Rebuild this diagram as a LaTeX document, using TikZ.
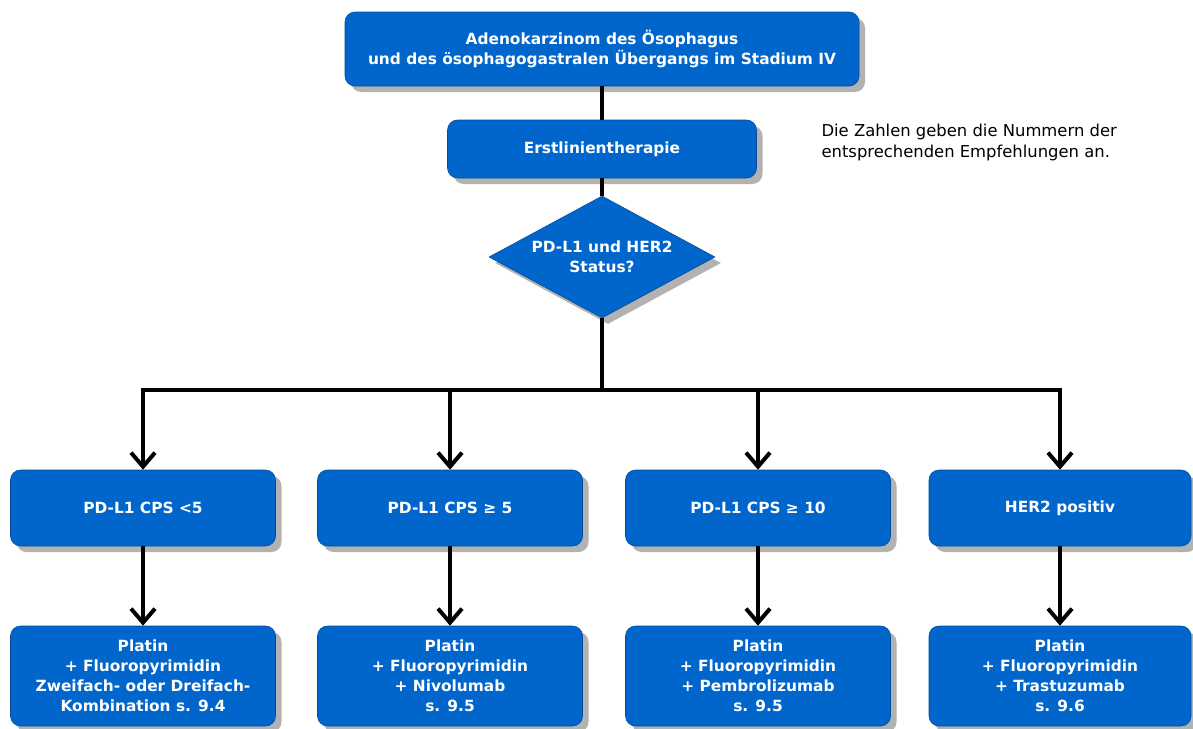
\documentclass[tikz,border=0pt]{standalone}
\usepackage{fontspec}
\setmainfont{DejaVu Sans}
\usetikzlibrary{shapes.geometric,shadows,arrows.meta}
\definecolor{boxblue}{HTML}{0066CC}
\begin{document}
\begin{tikzpicture}[x=1pt,y=-1pt,>={Straight Barb[length=14pt,width=24pt]}, line join=round,
    box/.style={fill=boxblue, draw=boxblue!75!black, line width=0.6pt, rounded corners=10pt,
      text=white, font=\fontsize{15.4}{20}\selectfont\bfseries, align=center, inner sep=0pt,
      drop shadow={shadow xshift=6pt, shadow yshift=-6pt, fill=black!30, opacity=1}},
    link/.style={line width=4pt}]
    \useasboundingbox (0,0) rectangle (1193,728);
    \def\xa{143} \def\xb{450} \def\xc{758} \def\xd{1060} % Spalten
    \def\ya{508} \def\yb{676} % Zeilen
    \node[box, minimum width=514pt, minimum height=74pt] (top) at (602,49)
      {Adenokarzinom des Ösophagus\\und des ösophagogastralen Übergangs im Stadium IV};
    \node[box, minimum width=309pt, minimum height=58pt] (erst) at (602,149) {Erstlinientherapie};
    \node[box, diamond, sharp corners, aspect=1.85, minimum width=226pt, minimum height=122pt] (status) at (602,257)
      {PD-L1 und HER2\\Status?};
    \node[anchor=north west, align=left, font=\fontsize{16.4}{21}\selectfont] (note) at (818,121)
      {Die Zahlen geben die Nummern der\\entsprechenden Empfehlungen an.};
    \coordinate (split) at (602,390);
    % erste Reihe
    \node[box, minimum width=265pt, minimum height=76pt] (cps0) at (\xa,\ya) {PD-L1 CPS <5};
    \node[box, minimum width=265pt, minimum height=76pt] (cps5) at (\xb,\ya) {PD-L1 CPS ≥ 5};
    \node[box, minimum width=265pt, minimum height=76pt] (cps10) at (\xc,\ya) {PD-L1 CPS ≥ 10};
    \node[box, minimum width=262pt, minimum height=76pt] (her2) at (\xd,\ya) {HER2 positiv};
    % zweite Reihe
    \node[box, minimum width=265pt, minimum height=100pt] (plat0) at (\xa,\yb)
      {Platin\\+ Fluoropyrimidin\\Zweifach- oder Dreifach-\\Kombination s. 9.4};
    \node[box, minimum width=265pt, minimum height=100pt] (plat5) at (\xb,\yb)
      {Platin\\+ Fluoropyrimidin\\+ Nivolumab\\s. 9.5};
    \node[box, minimum width=265pt, minimum height=100pt] (plat10) at (\xc,\yb)
      {Platin\\+ Fluoropyrimidin\\+ Pembrolizumab\\s. 9.5};
    \node[box, minimum width=262pt, minimum height=100pt] (plather) at (\xd,\yb)
      {Platin\\+ Fluoropyrimidin\\+ Trastuzumab\\s. 9.6};
    \draw[link] (top.south) -- (erst.north);
    \draw[link] (erst.south) -- (status.north);
    \draw[link] (status.south) -- (split);
    \draw[link, line cap=rect] (cps0 |- split) -- (her2 |- split);
    \foreach \n/\m in {cps0/plat0, cps5/plat5, cps10/plat10, her2/plather} {
      \draw[link,->] (\n |- split) -- (\n.north);
      \draw[link,->] (\n.south) -- (\m.north);
    }
\end{tikzpicture}
\end{document}
